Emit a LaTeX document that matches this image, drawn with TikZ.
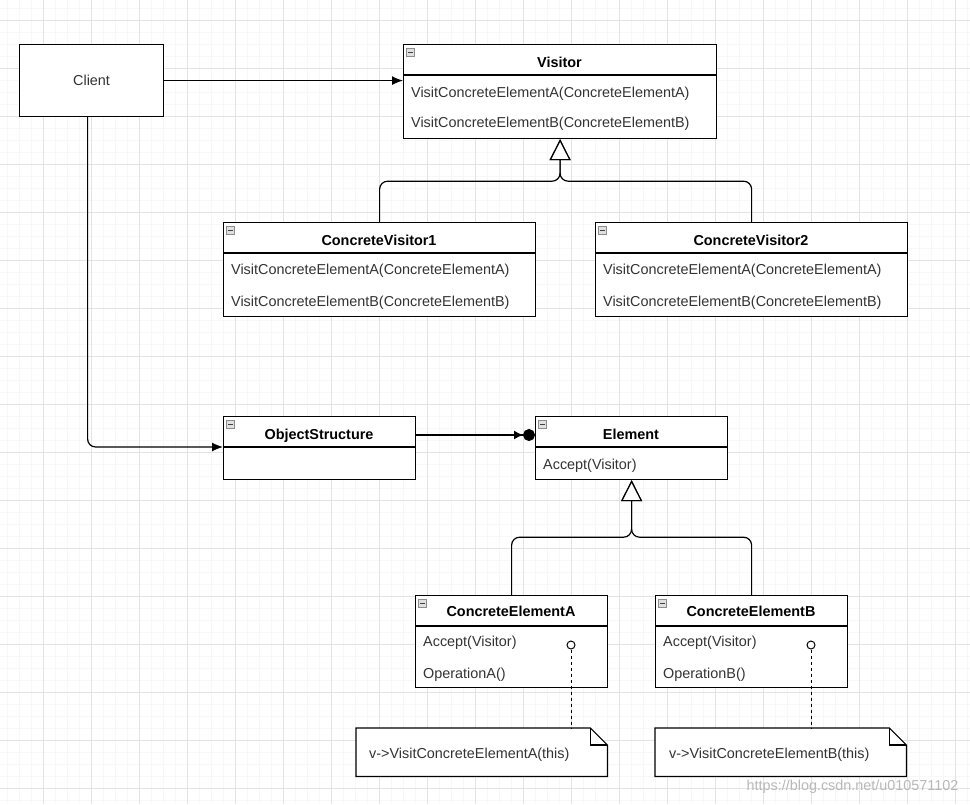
\documentclass[tikz,border=0pt]{standalone}
\usepackage{fontspec}
\setmainfont{Liberation Sans}
\usetikzlibrary{arrows.meta}

\tikzset{
  minorgrid/.style={line width=0.8pt, black!3},
  majorgrid/.style={line width=0.8pt, black!11},
  cls/.style={draw, line width=1.2pt, fill=white, anchor=north west, inner sep=0pt},
  ttl/.style={font=\fontsize{14.4}{17}\selectfont\bfseries, text=black, inner sep=0pt},
  row/.style={anchor=west, inner sep=0pt, text=black!80, yshift=-1.5pt},
  icon/.style={draw=black!45, fill=black!12, minimum size=8.5pt, inner sep=0pt,
    line width=0.7pt, path picture={\draw[line width=1.4pt, black!75]
      ([xshift=1.8pt]path picture bounding box.west) -- ([xshift=-1.8pt]path picture bounding box.east);}},
  assoc/.style={line width=1.2pt, -{Latex[length=11pt,width=9pt]}},
  inherit/.style={line width=1.2pt, rounded corners=8pt, -{Triangle[length=21pt,width=21pt,fill=white]}},
  notebox/.style={anchor=north west, inner sep=0pt, minimum width=251pt, minimum height=48pt},
  dot/.style={circle, draw, fill=white, line width=1pt, minimum size=8pt, inner sep=0pt},
  dashline/.style={line width=1pt, dash pattern=on 3pt off 3pt}
}

\begin{document}
\begin{tikzpicture}[x=1pt, y=-1pt, font=\fontsize{14.4}{17}\selectfont]
  \useasboundingbox (0,0) rectangle (970,804);
  \fill[white] (0,0) rectangle (970,804);
  % grid
  \foreach \gx in {7.3,19.3,...,970} \draw[minorgrid] (\gx,0) -- (\gx,804);
  \foreach \gy in {8.7,20.7,...,804} \draw[minorgrid] (0,\gy) -- (970,\gy);
  \foreach \gx in {43.3,91.3,...,970} \draw[majorgrid] (\gx,0) -- (\gx,804);
  \foreach \gy in {20.7,68.7,...,804} \draw[majorgrid] (0,\gy) -- (970,\gy);

  % client
  \node[cls, minimum width=144pt, minimum height=72pt] (client) at (19,44) {};
  \node[text=black!80] at (client.center) {Client};

  % visitors
  \node[cls, minimum width=313pt, minimum height=94pt] (visitor) at (403,44) {};
  \draw[line width=1.2pt] ([yshift=-31pt]visitor.north west) -- ([yshift=-31pt]visitor.north east);
  \node[icon] at (410.5,52.5) {};
  \node[ttl] at (559.5,62) {Visitor};
  \node[row] at (411,92) {VisitConcreteElementA(ConcreteElementA)};
  \node[row] at (411,122) {VisitConcreteElementB(ConcreteElementB)};

  \node[cls, minimum width=312pt, minimum height=94pt] (cv1) at (223,222) {};
  \draw[line width=1.2pt] ([yshift=-31pt]cv1.north west) -- ([yshift=-31pt]cv1.north east);
  \node[icon] at (230.5,230.5) {};
  \node[ttl] at (379,240) {ConcreteVisitor1};
  \node[row] at (231,269) {VisitConcreteElementA(ConcreteElementA)};
  \node[row] at (231,301) {VisitConcreteElementB(ConcreteElementB)};

  \node[cls, minimum width=312pt, minimum height=94pt] (cv2) at (595,222) {};
  \draw[line width=1.2pt] ([yshift=-31pt]cv2.north west) -- ([yshift=-31pt]cv2.north east);
  \node[icon] at (602.5,230.5) {};
  \node[ttl] at (751,240) {ConcreteVisitor2};
  \node[row] at (603,269) {VisitConcreteElementA(ConcreteElementA)};
  \node[row] at (603,301) {VisitConcreteElementB(ConcreteElementB)};

  % structure and elements
  \node[cls, minimum width=192pt, minimum height=63pt] (objs) at (223,416) {};
  \draw[line width=1.2pt] ([yshift=-31pt]objs.north west) -- ([yshift=-31pt]objs.north east);
  \node[icon] at (230.5,424.5) {};
  \node[ttl] at (319,435.5) {ObjectStructure};

  \node[cls, minimum width=192pt, minimum height=63pt] (element) at (535,416) {};
  \draw[line width=1.2pt] ([yshift=-31pt]element.north west) -- ([yshift=-31pt]element.north east);
  \node[icon] at (542.5,424.5) {};
  \node[ttl] at (631,434) {Element};
  \node[row] at (543,464) {Accept(Visitor)};

  \node[cls, minimum width=192pt, minimum height=92pt] (ceA) at (415,595) {};
  \draw[line width=1.2pt] ([yshift=-31pt]ceA.north west) -- ([yshift=-31pt]ceA.north east);
  \node[icon] at (422.5,603.5) {};
  \node[ttl] at (511,611) {ConcreteElementA};
  \node[row] at (423,641) {Accept(Visitor)};
  \node[row] at (423,673) {OperationA()};
  \node[dot] (pA) at (571,645) {};

  \node[cls, minimum width=192pt, minimum height=92pt] (ceB) at (655,595) {};
  \draw[line width=1.2pt] ([yshift=-31pt]ceB.north west) -- ([yshift=-31pt]ceB.north east);
  \node[icon] at (662.5,603.5) {};
  \node[ttl] at (751,611) {ConcreteElementB};
  \node[row] at (663,641) {Accept(Visitor)};
  \node[row] at (663,673) {OperationB()};
  \node[dot] (pB) at (811,645) {};

  % notes
  \node[notebox] (noteA) at (356,728) {};
  \draw[line width=1.2pt, fill=white] (noteA.south west) |- ([xshift=-17pt]noteA.north east)
    -- ([yshift=-17pt]noteA.north east) |- cycle;
  \draw[line width=1.2pt] ([xshift=-17pt]noteA.north east) |- ([yshift=-17pt]noteA.north east);
  \node[row] at (369,753) {v->VisitConcreteElementA(this)};

  \node[notebox] (noteB) at (655,728) {};
  \draw[line width=1.2pt, fill=white] (noteB.south west) |- ([xshift=-17pt]noteB.north east)
    -- ([yshift=-17pt]noteB.north east) |- cycle;
  \draw[line width=1.2pt] ([xshift=-17pt]noteB.north east) |- ([yshift=-17pt]noteB.north east);
  \node[row] at (669,753) {v->VisitConcreteElementB(this)};

  % connectors
  \draw[assoc] (client.east) -- (client.east -| visitor.west);
  \draw[assoc, rounded corners=8pt] ([xshift=-4pt]client.south) |- ([yshift=-31pt]objs.north west);
  \draw[line width=1.2pt, -{Latex[length=9pt,width=9pt]Circle[length=12pt]}]
    ([yshift=-19pt]objs.north east) -- ([yshift=-19pt]element.north west);
  \draw[inherit] (cv1.north) |- ([yshift=-42pt]visitor.south) -- (visitor.south);
  \draw[inherit] (cv2.north) |- ([yshift=-42pt]visitor.south) -- (visitor.south);
  \draw[inherit] (ceA.north) |- ([yshift=-57pt]element.south) -- (element.south);
  \draw[inherit] (ceB.north) |- ([yshift=-57pt]element.south) -- (element.south);
  \draw[dashline] (pA) -- (pA |- noteA.north);
  \draw[dashline] (pB) -- (pB |- noteB.north);

  \node[anchor=east, text=black!28] at (962,787) {https://blog.csdn.net/u010571102};
\end{tikzpicture}
\end{document}
